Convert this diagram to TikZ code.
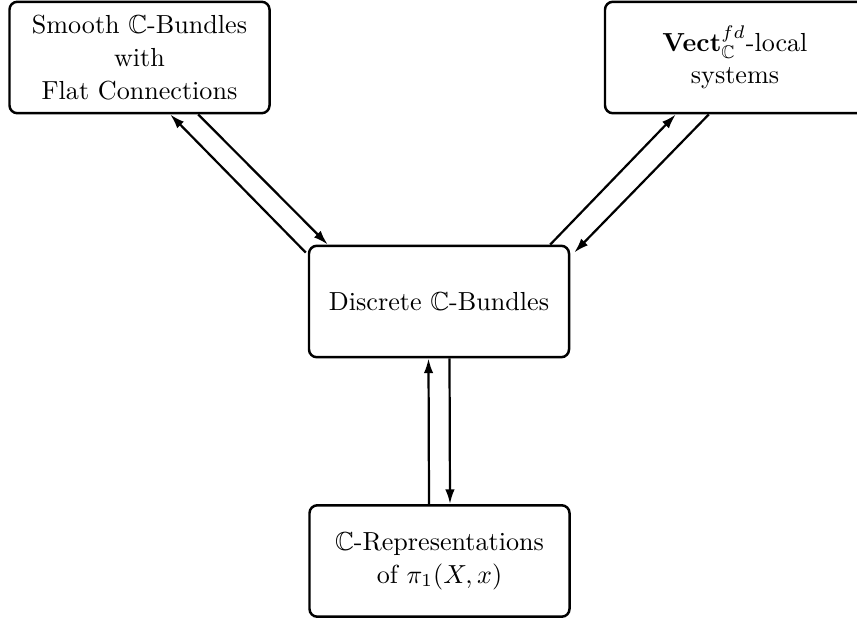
\documentclass[tikz,border=0pt]{standalone}
\usepackage{amsmath,amssymb}
\usetikzlibrary{calc,arrows.meta}
\begin{document}
\begin{tikzpicture}[x=0.383pt,y=-0.383pt,
  box/.style={draw, line width=0.95pt, rounded corners=3pt, minimum width=3.5cm, minimum height=1.5cm, align=center, inner sep=2pt},
  arr/.style={line width=0.85pt, -{Latex[length=5.6pt,width=3.6pt]}}]
\useasboundingbox (0,0) rectangle (857,619);
\node[box] (TL) at (139.5,57.5) {Smooth $\mathbb{C}$-Bundles\\[0.5pt] with\\[0.5pt] Flat Connections};
\node[box] (TR) at (735,57.5) {$\mathbf{Vect}^{fd}_{\mathbb{C}}$-local\\[0.5pt] systems};
\node[box] (C) at (439,301.5) {Discrete $\mathbb{C}$-Bundles};
\node[box] (B) at (439.5,561) {$\mathbb{C}$-Representations\\[0.5pt] of $\pi_1(X,x)$};
% top-left pair
\draw[arr] ($(C.north west)+(-2,8)$) -- ($(TL.south west)+(162,0)$);
\draw[arr] ($(TL.south west)+(190,0)$) -- ($(C.north west)+(20,0)$);
% top-right pair
\draw[arr] ($(C.north east)+(-20,0)$) -- ($(TR.south west)+(72,0)$);
\draw[arr] ($(TR.south west)+(105,0)$) -- ($(C.north east)+(4,8)$);
% vertical pair
\draw[arr] ($(B.north)+(-10.5,0)$) -- ($(C.south)+(-10.5,0)$);
\draw[arr] ($(C.south)+(10.5,0)$) -- ($(B.north)+(10.5,0)$);
\end{tikzpicture}
\end{document}
